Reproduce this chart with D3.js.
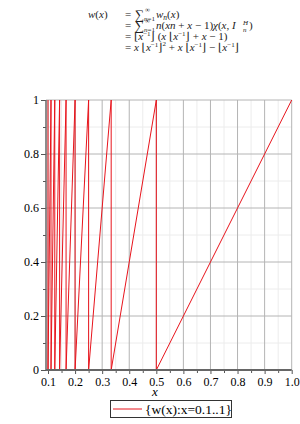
<!DOCTYPE html>
<html>
<head>
<meta charset="utf-8">
<script src="https://cdn.jsdelivr.net/npm/d3@7"></script>
<style>
  body { margin: 0; background: #fff; }
  svg { display: block; }
</style>
</head>
<body>
<div id="chart"></div>
<script>

// data ====================
// breakpoints of w(x) = x*floor(1/x)^2 + x*floor(1/x) - floor(1/x), x = 0.1..1
var xValues = [0.1, 0.1, 0.1111, 0.1111, 0.125, 0.125, 0.1429, 0.1429, 0.1667, 0.1667,
               0.2, 0.2, 0.25, 0.25, 0.3333, 0.3333, 0.5, 0.5, 1.0];
var yValues = [1, 0, 1, 0, 1, 0, 1, 0, 1, 0,
               1, 0, 1, 0, 1, 0, 1, 0, 1];

var xTicks = [0.1, 0.2, 0.3, 0.4, 0.5, 0.6, 0.7, 0.8, 0.9, 1.0];
var xMinor = [0.15, 0.25, 0.35, 0.45, 0.55, 0.65, 0.75, 0.85, 0.95];
var yTicks = [0, 0.2, 0.4, 0.6, 0.8, 1];
var yMinor = [0.1, 0.3, 0.5, 0.7, 0.9];
var yTickLabels = ["0", "0.2", "0.4", "0.6", "0.8", "1"];
var legendLabel = "{w(x):x=0.1..1}";

var serif = "'Liberation Serif', 'Times New Roman', 'DejaVu Serif', serif";
var red = '#e8141c';

var width = 300, height = 424;

var svg = d3.select('#chart')
  .append('svg')
  .attr('width', width)
  .attr('height', height);

var x = d3.scaleLinear().domain([0.0926, 1.0]).range([46, 291.7]);
var y = d3.scaleLinear().domain([0, 1]).range([370, 100]);

// grid ====================
svg.append('g').selectAll('line')
  .data(xMinor).enter().append('line')
  .attr('x1', function(d) { return x(d); })
  .attr('x2', function(d) { return x(d); })
  .attr('y1', y(0)).attr('y2', y(1))
  .style('stroke', '#ececec');

svg.append('g').selectAll('line')
  .data(yMinor).enter().append('line')
  .attr('x1', x.range()[0]).attr('x2', x.range()[1])
  .attr('y1', function(d) { return y(d); })
  .attr('y2', function(d) { return y(d); })
  .style('stroke', '#ececec');

svg.append('g').selectAll('line')
  .data(xTicks).enter().append('line')
  .attr('x1', function(d) { return x(d); })
  .attr('x2', function(d) { return x(d); })
  .attr('y1', y(0)).attr('y2', y(1))
  .style('stroke', '#b4b4b4');

svg.append('g').selectAll('line')
  .data(yTicks.slice(1)).enter().append('line')
  .attr('x1', x.range()[0]).attr('x2', x.range()[1])
  .attr('y1', function(d) { return y(d); })
  .attr('y2', function(d) { return y(d); })
  .style('stroke', '#b4b4b4');

// curve ====================
var pts = d3.zip(xValues, yValues);
var line = d3.line()
  .x(function(d) { return x(d[0]); })
  .y(function(d) { return y(d[1]); });

svg.append('path')
  .datum(pts)
  .attr('d', line)
  .style('fill', 'none')
  .style('stroke', red)
  .style('stroke-width', 1);

// axes ====================
var xAxis = svg.append('g')
  .attr('transform', 'translate(0,' + y(0) + ')')
  .call(d3.axisBottom(x).tickValues(xTicks).tickSize(4).tickPadding(3)
    .tickFormat(d3.format('.1f')));
xAxis.select('.domain').remove();
xAxis.selectAll('.tick line').style('stroke', '#555');
xAxis.selectAll('.tick text')
  .attr('font-family', serif).attr('font-size', 12).attr('fill', '#000');

svg.append('g')
  .attr('transform', 'translate(0,' + y(0) + ')')
  .call(d3.axisBottom(x).tickValues(xMinor).tickSize(3).tickFormat(''))
  .call(function(g) { g.select('.domain').remove(); })
  .selectAll('.tick line').style('stroke', '#555');

var yAxis = svg.append('g')
  .attr('transform', 'translate(' + x.range()[0] + ',0)')
  .call(d3.axisLeft(y).tickValues(yTicks).tickSize(5).tickPadding(2)
    .tickFormat(function(d, i) { return yTickLabels[i]; }));
yAxis.select('.domain').remove();
yAxis.selectAll('.tick line').style('stroke', '#555');
yAxis.selectAll('.tick text')
  .attr('font-family', serif).attr('font-size', 12).attr('fill', '#000');

svg.append('g')
  .attr('transform', 'translate(' + x.range()[0] + ',0)')
  .call(d3.axisLeft(y).tickValues(yMinor).tickSize(3).tickFormat(''))
  .call(function(g) { g.select('.domain').remove(); })
  .selectAll('.tick line').style('stroke', '#555');

svg.append('line')
  .attr('x1', x.range()[0]).attr('x2', x.range()[0])
  .attr('y1', y(0)).attr('y2', y(1))
  .style('stroke', '#666').style('stroke-width', 1.5);

svg.append('line')
  .attr('x1', x.range()[0]).attr('x2', x.range()[1])
  .attr('y1', y(0)).attr('y2', y(0))
  .style('stroke', '#666').style('stroke-width', 2);

svg.append('text')
  .attr('x', 155).attr('y', 396)
  .attr('text-anchor', 'middle')
  .attr('font-family', serif)
  .attr('font-style', 'italic')
  .attr('font-size', 13)
  .text('x');

// legend ====================
svg.append('rect')
  .attr('x', 110.5).attr('y', 400.5)
  .attr('width', 121).attr('height', 17)
  .style('fill', '#fff')
  .style('stroke', '#333');

svg.append('line')
  .attr('x1', 113).attr('x2', 142)
  .attr('y1', 409).attr('y2', 409)
  .style('stroke', red);

svg.append('text')
  .attr('x', 145).attr('y', 414)
  .attr('font-family', serif)
  .attr('font-size', 13.5)
  .text(legendLabel);

// formula ====================
var math = svg.append('g')
  .attr('font-family', serif)
  .attr('font-size', 11)
  .attr('fill', '#222');

function txt(xx, yy, parts) {
  var t = math.append('text').attr('x', xx).attr('y', yy);
  parts.forEach(function(p) {
    var s = t.append('tspan').text(p.t);
    if (p.dy) s.attr('dy', p.dy);
    if (p.it) s.attr('font-style', 'italic');
    if (p.fs) s.attr('font-size', p.fs);
  });
  return t;
}

function sigma(xx, yy) {
  txt(xx, yy + 1, [{t: '\u2211', fs: 13}]);
  txt(xx + 10, yy - 6, [{t: '\u221e', fs: 7}]);
  txt(xx + 9, yy + 3, [{t: 'n', it: 1, fs: 7}, {t: '=1', fs: 7}]);
}

var inv = function() {
  return [{t: '\u230a'}, {t: 'x', it: 1}, {dy: -4, t: '\u22121', fs: 7}, {dy: 4, t: '\u230b'}];
};

var eqX = 125, bodyX = 135, sumX = 156;

// line 1
txt(88, 18, [{t: 'w', it: 1}, {t: '('}, {t: 'x', it: 1}, {t: ')'}]);
txt(eqX, 18, [{t: '='}]);
sigma(bodyX, 18);
txt(sumX, 18, [{t: 'w', it: 1}, {dy: 2, t: 'n', it: 1, fs: 7.5}, {dy: -2, t: '('}, {t: 'x', it: 1}, {t: ')'}]);

// line 2
txt(eqX, 29, [{t: '='}]);
sigma(bodyX, 29);
txt(sumX, 29, [{t: 'n', it: 1}, {t: '('}, {t: 'xn', it: 1}, {t: ' + '}, {t: 'x', it: 1},
  {t: ' \u2212 1)'}, {t: '\u03c7', it: 1}, {t: '('}, {t: 'x', it: 1}, {t: ', '}, {t: 'I', it: 1}]);
txt(243, 25, [{t: 'H', it: 1, fs: 7}]);
txt(243, 32, [{t: 'n', it: 1, fs: 7}]);
txt(249, 29, [{t: ')'}]);

// line 3
txt(eqX, 40, [{t: '=  '}].concat(inv(), [{t: '  ('}, {t: 'x', it: 1}, {t: ' '}], inv(),
  [{t: ' + '}, {t: 'x', it: 1}, {t: ' \u2212 1)'}]));

// line 4
txt(eqX, 51, [{t: '=  '}, {t: 'x', it: 1}, {t: ' '}].concat(inv(), [{dy: -5, t: '2', fs: 7},
  {dy: 5, t: ' + '}, {t: 'x', it: 1}, {t: ' '}], inv(), [{t: ' \u2212 '}], inv()));

</script>
</body>
</html>
